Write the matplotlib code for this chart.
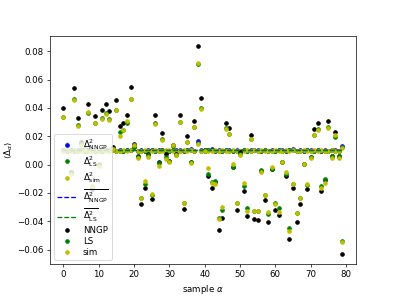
import matplotlib
matplotlib.use("Agg")
import matplotlib.pyplot as plt
import numpy as np

samples = np.arange(80)

# per-sample Delta_alpha
nngp = [0.0401, 0.0148, -0.0050, 0.0539, 0.0327, 0.0157, 0.0112, 0.0426, -0.0175, 0.0346,
        -0.0004, 0.0383, 0.0429, 0.0380, 0.0125, 0.0458, 0.0272, 0.0294, 0.0347, 0.0547,
        0.0145, 0.0060, -0.0275, -0.0167, 0.0076, -0.0245, 0.0348, 0.0016, 0.0223, 0.0072,
        0.0025, 0.0139, 0.0075, 0.0348, -0.0313, 0.0201, 0.0019, 0.0310, 0.0837, 0.0470,
        0.0105, -0.0082, -0.0167, -0.0120, -0.0462, -0.0377, 0.0296, 0.0260, -0.0020, -0.0318,
        0.0086, -0.0184, -0.0364, 0.0212, -0.0384, -0.0390, -0.0042, -0.0250, -0.0407, -0.0033,
        -0.0323, -0.0358, 0.0016, -0.0080, -0.0525, -0.0167, -0.0405, -0.0275, 0.0007, -0.0172,
        0.0055, 0.0249, 0.0296, -0.0184, -0.0110, 0.0306, 0.0059, 0.0230, 0.0059, -0.0631]
ls = [0.0336, 0.0132, -0.0062, 0.0462, 0.0277, 0.0142, 0.0108, 0.0364, -0.0162, 0.0296,
      0.0004, 0.0326, 0.0364, 0.0324, 0.0112, 0.0386, 0.0228, 0.0247, 0.0294, 0.0462,
      0.0122, 0.0055, -0.0238, -0.0140, 0.0065, -0.0212, 0.0295, 0.0013, 0.0182, 0.0056,
      0.0022, 0.0128, 0.0068, 0.0298, -0.0273, 0.0160, 0.0019, 0.0268, 0.0712, 0.0398,
      0.0100, -0.0066, -0.0125, -0.0116, -0.0380, -0.0318, 0.0258, 0.0218, -0.0019, -0.0270,
      0.0075, -0.0153, -0.0306, 0.0183, -0.0328, -0.0328, -0.0040, -0.0215, -0.0351, -0.0033,
      -0.0268, -0.0305, 0.0016, -0.0066, -0.0445, -0.0140, -0.0345, -0.0238, 0.0007, -0.0142,
      0.0052, 0.0212, 0.0248, -0.0151, -0.0104, 0.0263, 0.0059, 0.0195, 0.0059, -0.0539]
sim = [0.0334, 0.0126, -0.0070, 0.0459, 0.0273, 0.0136, 0.0105, 0.0371, -0.0152, 0.0292,
       -0.0012, 0.0322, 0.0360, 0.0313, 0.0108, 0.0383, 0.0202, 0.0244, 0.0307, 0.0460,
       0.0140, 0.0049, -0.0235, -0.0115, 0.0056, -0.0210, 0.0290, -0.0007, 0.0176, 0.0042,
       0.0019, 0.0136, 0.0066, 0.0299, -0.0270, 0.0158, 0.0011, 0.0264, 0.0717, 0.0394,
       0.0098, -0.0024, -0.0128, -0.0139, -0.0385, -0.0297, 0.0254, 0.0214, 0.0004, -0.0268,
       0.0068, -0.0130, -0.0325, 0.0181, -0.0327, -0.0327, -0.0049, -0.0212, -0.0334, -0.0019,
       -0.0278, -0.0338, 0.0016, -0.0052, -0.0469, -0.0137, -0.0342, -0.0235, 0.0005, -0.0139,
       0.0049, 0.0209, 0.0244, -0.0162, -0.0127, 0.0261, 0.0047, 0.0207, 0.0047, -0.0548]

# per-sample Delta^2
d2_nngp = [0.0102, 0.0099, 0.0104, 0.0098, 0.0101, 0.0103, 0.0097, 0.0100, 0.0102, 0.0098,
           0.0101, 0.0099, 0.0103, 0.0100, 0.0104, 0.0098, 0.0101, 0.0097, 0.0102, 0.0105,
           0.0140, 0.0098, 0.0101, 0.0099, 0.0100, 0.0102, 0.0097, 0.0101, 0.0103, 0.0099,
           0.0098, 0.0102, 0.0100, 0.0101, 0.0097, 0.0103, 0.0108, 0.0099, 0.0165, 0.0101,
           0.0098, 0.0102, 0.0107, 0.0099, 0.0101, 0.0098, 0.0103, 0.0100, 0.0097, 0.0101,
           0.0096, 0.0102, 0.0099, 0.0101, 0.0106, 0.0100, 0.0098, 0.0102, 0.0099, 0.0101,
           0.0097, 0.0103, 0.0100, 0.0098, 0.0102, 0.0108, 0.0099, 0.0101, 0.0097, 0.0103,
           0.0100, 0.0098, 0.0102, 0.0099, 0.0101, 0.0097, 0.0103, 0.0100, 0.0098, 0.0130]
d2_ls = [0.0100, 0.0097, 0.0102, 0.0096, 0.0099, 0.0101, 0.0095, 0.0098, 0.0100, 0.0097,
         0.0099, 0.0098, 0.0101, 0.0098, 0.0101, 0.0096, 0.0099, 0.0096, 0.0100, 0.0102,
         0.0125, 0.0097, 0.0099, 0.0098, 0.0098, 0.0100, 0.0096, 0.0099, 0.0101, 0.0097,
         0.0096, 0.0100, 0.0098, 0.0099, 0.0096, 0.0101, 0.0104, 0.0097, 0.0150, 0.0099,
         0.0097, 0.0100, 0.0104, 0.0097, 0.0099, 0.0096, 0.0101, 0.0098, 0.0095, 0.0099,
         0.0095, 0.0100, 0.0097, 0.0099, 0.0103, 0.0098, 0.0096, 0.0100, 0.0097, 0.0099,
         0.0096, 0.0101, 0.0098, 0.0096, 0.0100, 0.0104, 0.0097, 0.0099, 0.0096, 0.0101,
         0.0098, 0.0096, 0.0100, 0.0097, 0.0099, 0.0096, 0.0101, 0.0098, 0.0096, 0.0122]
d2_sim = [0.0098, 0.0101, 0.0096, 0.0100, 0.0097, 0.0099, 0.0102, 0.0096, 0.0098, 0.0101,
          0.0097, 0.0100, 0.0096, 0.0099, 0.0102, 0.0097, 0.0098, 0.0101, 0.0096, 0.0100,
          0.0132, 0.0099, 0.0097, 0.0101, 0.0096, 0.0099, 0.0102, 0.0097, 0.0098, 0.0100,
          0.0101, 0.0096, 0.0099, 0.0097, 0.0102, 0.0098, 0.0100, 0.0096, 0.0145, 0.0098,
          0.0101, 0.0097, 0.0099, 0.0102, 0.0096, 0.0100, 0.0097, 0.0099, 0.0101, 0.0096,
          0.0098, 0.0097, 0.0101, 0.0096, 0.0100, 0.0098, 0.0102, 0.0096, 0.0099, 0.0097,
          0.0101, 0.0096, 0.0099, 0.0102, 0.0097, 0.0100, 0.0096, 0.0098, 0.0101, 0.0097,
          0.0099, 0.0102, 0.0096, 0.0100, 0.0097, 0.0099, 0.0101, 0.0096, 0.0098, 0.0118]

fig = plt.figure(figsize=(6.4, 4.8), dpi=61.875)
ms = 8.5

plt.plot(samples, d2_nngp, 'b.', markersize=ms, label=r'$\Delta^2_{\rm NNGP}$')
plt.plot(samples, d2_ls, 'g.', markersize=ms, label=r'$\Delta^2_{\rm LS}$')
plt.plot(samples, d2_sim, 'y.', markersize=ms, label=r'$\Delta^2_{\rm sim}$')
plt.plot(samples, np.full(len(samples), np.mean(d2_nngp)), 'b--',
         label=r'$\overline{\Delta^2_{\rm NNGP}}$')
plt.plot(samples, np.full(len(samples), np.mean(d2_ls)), 'g--',
         label=r'$\overline{\Delta^2_{\rm LS}}$')
plt.plot(samples, nngp, 'k.', markersize=ms, label='NNGP')
plt.plot(samples, ls, 'g.', markersize=ms, label='LS')
plt.plot(samples, sim, 'y.', markersize=ms, label='sim')

plt.xlabel(r'sample $\alpha$')
plt.ylabel(r'$\langle\Delta_\alpha\rangle$')
plt.legend(loc='lower left', labelspacing=0.2, handlelength=2.2)

plt.savefig('out.png')
